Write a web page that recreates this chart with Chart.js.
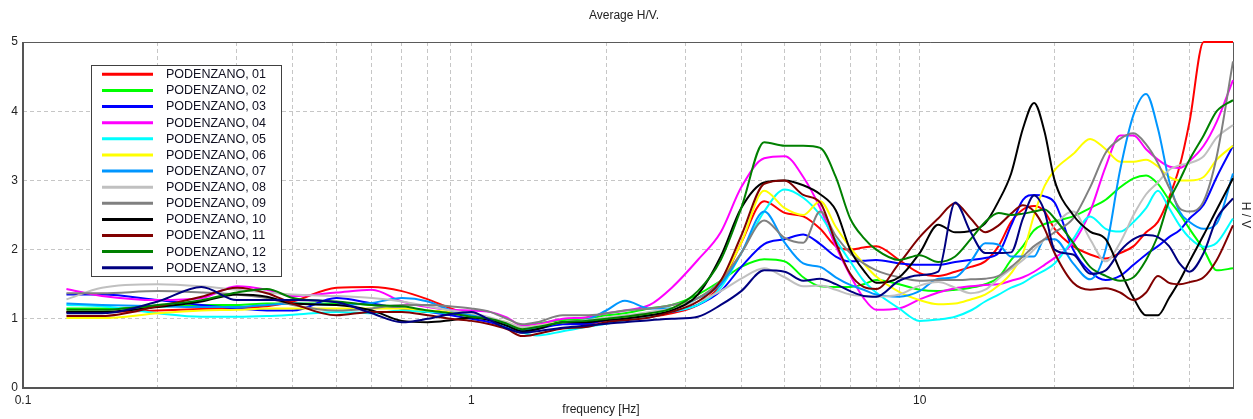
<!DOCTYPE html>
<html><head><meta charset="utf-8">
<script src="https://cdn.jsdelivr.net/npm/chart.js@4.4.1/dist/chart.umd.min.js"></script>
<style>html,body{margin:0;padding:0;background:#fff;}#wrap{width:1253px;height:419px;}</style>
</head><body>
<div id="wrap"><canvas id="c" width="1253" height="419"></canvas></div>
<script>
const freqs = [0.125,0.15,0.2,0.25,0.3,0.35,0.4,0.5,0.6,0.7,
  0.8,0.9,1.0,1.1,1.2,1.3,1.4,1.6,1.8,2.0,
  2.2,2.5,2.8,3.2,3.6,4.0,4.5,5.0,5.5,6.0,
  6.5,7.0,7.5,8,9,10,11,12,13,14,
  15,16,17,18,19,20,22,24,26,28,
  30,32,34,36,38,40,43,46,50];

const seriesLabels = ['PODENZANO, 01','PODENZANO, 02','PODENZANO, 03','PODENZANO, 04','PODENZANO, 05','PODENZANO, 06','PODENZANO, 07','PODENZANO, 08','PODENZANO, 09','PODENZANO, 10','PODENZANO, 11','PODENZANO, 12','PODENZANO, 13'];
const seriesColors = ['#ff0000','#00ff00','#0000ff','#ff00ff','#00ffff','#ffff00','#0096ff','#c0c0c0','#808080','#000000','#800000','#008000','#000080'];

const s01 = [1.10,1.10,1.12,1.14,1.16,1.18,1.25,1.45,1.46,1.40,
 1.28,1.15,1.06,1.00,0.92,0.84,0.86,0.95,0.92,0.98,
 1.00,1.03,1.08,1.20,1.50,2.10,2.70,2.53,2.48,2.30,
 2.05,2.00,2.03,2.05,1.85,1.66,1.62,1.68,1.75,1.83,
 2.05,2.40,2.58,2.63,2.55,2.30,2.05,1.93,1.87,1.95,
 2.05,2.25,2.40,2.75,3.20,3.85,5.00,5.00,5.00];
const s02 = [1.15,1.15,1.17,1.20,1.20,1.22,1.22,1.22,1.20,1.15,
 1.10,1.10,1.05,1.00,0.93,0.88,0.93,0.98,1.00,1.05,
 1.08,1.15,1.20,1.35,1.55,1.75,1.86,1.83,1.60,1.47,
 1.46,1.46,1.50,1.56,1.50,1.42,1.40,1.42,1.45,1.50,
 1.60,1.85,2.05,2.28,2.37,2.41,2.48,2.60,2.72,2.90,
 3.03,3.07,2.95,2.72,2.52,2.30,2.00,1.70,1.73];
const s03 = [1.35,1.35,1.27,1.20,1.15,1.12,1.12,1.30,1.22,1.15,
 1.10,1.05,1.00,0.95,0.87,0.80,0.85,0.92,0.93,0.98,
 1.00,1.05,1.10,1.20,1.40,1.75,2.08,2.15,2.22,2.08,
 1.90,1.83,1.84,1.85,1.80,1.78,1.78,1.82,1.85,1.88,
 1.95,2.35,2.72,2.79,2.77,2.68,2.00,1.68,1.56,1.62,
 1.78,1.93,2.05,2.18,2.28,2.45,2.65,3.05,3.50];
const s04 = [1.43,1.33,1.27,1.30,1.47,1.42,1.33,1.38,1.42,1.25,
 1.17,1.13,1.12,1.10,1.02,0.90,0.92,1.00,1.02,1.08,
 1.12,1.20,1.45,1.85,2.25,2.90,3.32,3.35,3.05,2.60,
 2.05,1.63,1.30,1.13,1.15,1.28,1.38,1.44,1.47,1.49,
 1.50,1.55,1.60,1.68,1.78,1.88,2.10,2.55,3.20,3.65,
 3.65,3.45,3.30,3.20,3.18,3.28,3.50,3.85,4.45];
const s05 = [1.20,1.18,1.08,1.03,1.03,1.04,1.06,1.10,1.08,1.12,
 1.10,1.08,1.05,0.98,0.90,0.80,0.76,0.82,0.88,0.93,
 0.98,1.03,1.10,1.20,1.45,1.95,2.55,2.87,2.75,2.50,
 2.14,1.83,1.55,1.38,1.15,0.97,0.99,1.03,1.12,1.25,
 1.35,1.45,1.52,1.62,1.70,1.80,2.15,2.48,2.30,2.26,
 2.40,2.60,2.85,2.60,2.35,2.17,2.04,2.10,2.45];
const s06 = [1.01,1.01,1.08,1.12,1.13,1.15,1.15,1.15,1.15,1.15,
 1.12,1.10,1.05,1.00,0.95,0.87,0.90,0.95,0.97,1.00,
 1.03,1.08,1.15,1.30,1.55,2.10,2.85,2.60,2.50,2.70,
 2.33,2.03,1.80,1.61,1.39,1.27,1.21,1.22,1.28,1.35,
 1.48,1.66,1.95,2.50,2.92,3.15,3.38,3.60,3.45,3.27,
 3.27,3.30,3.20,3.05,3.00,3.00,3.05,3.30,3.50];
const s07 = [1.22,1.20,1.18,1.17,1.17,1.20,1.22,1.20,1.23,1.30,
 1.25,1.12,1.05,1.00,0.92,0.83,0.87,0.95,0.98,1.12,
 1.26,1.15,1.15,1.30,1.50,1.95,2.55,2.10,1.80,1.75,
 1.60,1.49,1.42,1.35,1.32,1.40,1.58,1.60,1.83,2.09,
 2.07,1.90,1.90,1.90,2.15,2.15,1.80,1.57,2.00,3.15,
 3.95,4.25,3.75,3.00,2.55,2.40,2.30,2.38,3.10];
const s08 = [1.28,1.45,1.50,1.47,1.42,1.38,1.35,1.33,1.30,1.25,
 1.18,1.12,1.08,1.02,0.95,0.88,0.90,0.95,0.98,1.02,
 1.05,1.10,1.15,1.25,1.40,1.58,1.73,1.60,1.47,1.48,
 1.42,1.35,1.33,1.32,1.35,1.48,1.53,1.45,1.37,1.42,
 1.58,1.72,1.85,2.00,2.15,2.35,2.55,2.15,1.83,2.10,
 2.50,2.80,2.97,3.15,3.22,3.25,3.35,3.62,3.80];
const s09 = [1.37,1.37,1.40,1.38,1.35,1.30,1.20,1.12,1.15,1.20,
 1.20,1.18,1.15,1.10,1.00,0.92,0.95,1.05,1.05,1.08,
 1.12,1.15,1.20,1.30,1.55,1.95,2.42,2.17,2.10,2.55,
 2.20,1.95,1.80,1.70,1.60,1.55,1.56,1.56,1.57,1.58,
 1.62,1.75,1.90,2.05,2.15,2.25,2.45,2.90,3.40,3.60,
 3.68,3.52,3.25,2.90,2.60,2.55,2.70,3.35,4.72];
const s10 = [1.10,1.10,1.17,1.25,1.35,1.32,1.22,1.20,1.12,0.97,
 0.95,0.98,1.02,0.98,0.90,0.82,0.85,0.95,0.95,0.98,
 1.00,1.05,1.12,1.35,1.90,2.60,2.97,3.00,2.93,2.80,
 2.57,2.00,1.70,1.52,1.60,1.95,2.36,2.25,2.27,2.38,
 2.70,3.10,3.75,4.12,3.70,3.00,2.50,2.26,2.15,1.70,
 1.30,1.05,1.05,1.30,1.55,1.83,2.21,2.58,3.03];
const s11 = [1.04,1.04,1.18,1.32,1.45,1.37,1.22,1.05,1.10,1.10,
 1.05,1.00,0.97,0.92,0.85,0.75,0.78,0.86,0.88,0.95,
 0.98,1.02,1.10,1.25,1.55,2.20,2.95,3.00,2.79,2.68,
 2.10,1.65,1.46,1.43,1.80,2.18,2.45,2.67,2.45,2.25,
 2.35,2.52,2.64,2.55,2.30,1.95,1.52,1.42,1.44,1.38,
 1.27,1.38,1.62,1.52,1.50,1.53,1.60,1.85,2.35];
const s12 = [1.13,1.13,1.20,1.27,1.38,1.43,1.30,1.25,1.20,1.18,
 1.12,1.08,1.03,1.00,0.93,0.85,0.88,0.95,0.97,1.00,
 1.03,1.08,1.15,1.40,1.85,2.60,3.55,3.50,3.50,3.47,
 3.05,2.45,2.17,2.00,1.85,1.92,1.82,1.90,2.15,2.40,
 2.53,2.50,2.52,2.55,2.58,2.45,2.10,1.75,1.62,1.55,
 1.60,1.85,2.20,2.70,3.00,3.30,3.65,4.00,4.16];
const s13 = [1.08,1.08,1.25,1.46,1.27,1.27,1.27,1.24,1.08,0.95,
 1.00,1.07,1.10,0.98,0.86,0.80,0.82,0.87,0.90,0.93,
 0.95,0.98,1.00,1.03,1.20,1.40,1.70,1.68,1.55,1.58,
 1.50,1.40,1.33,1.32,1.55,1.63,1.68,2.68,2.25,1.95,
 1.95,1.96,2.45,2.78,2.55,2.00,1.93,1.65,1.70,1.98,
 2.15,2.21,2.18,2.05,1.80,1.68,1.95,2.45,2.74];

const allSeries = [s01,s02,s03,s04,s05,s06,s07,s08,s09,s10,s11,s12,s13];

const xTickValues = [0.1,0.2,0.3,0.4,0.5,0.6,0.7,0.8,0.9,1,2,3,4,5,6,7,8,9,10,20,30,40,50];
const xTickLabels = {'0.1':'0.1','1':'1','10':'10'};
const yTickValues = [0,1,2,3,4,5];

const FONT = '"Liberation Sans", Arial, sans-serif';
const TEXT = '#222222';

const datasets = allSeries.map((vals, i) => ({
  label: seriesLabels[i],
  data: vals.map((v, j) => ({x: freqs[j], y: v})),
  borderColor: seriesColors[i],
  backgroundColor: seriesColors[i],
  borderWidth: 2,
  pointRadius: 0,
  fill: false,
  clip: 3,
  cubicInterpolationMode: 'monotone',
  order: seriesLabels.length - i
}));

const overlay = {
  id: 'overlay',
  beforeDatasetsDraw(chart) {
    const {ctx, chartArea: a} = chart;
    ctx.save();
    ctx.strokeStyle = '#5a5a5a';
    ctx.lineWidth = 1;
    ctx.beginPath();
    ctx.moveTo(a.left, a.top + 0.5); ctx.lineTo(a.right + 0.5, a.top + 0.5);
    ctx.lineTo(a.right + 0.5, a.bottom);
    ctx.stroke();
    ctx.lineWidth = 2;
    ctx.strokeStyle = '#555555';
    ctx.beginPath();
    ctx.moveTo(a.left, a.top); ctx.lineTo(a.left, a.bottom); ctx.lineTo(a.right + 1, a.bottom);
    ctx.stroke();
    ctx.restore();
  },
  afterDraw(chart) {
    const {ctx} = chart;
    ctx.save();
    // legend box
    const lx = 91.5, ly = 65.5, lw = 190, lh = 211;
    ctx.fillStyle = '#ffffff';
    ctx.fillRect(lx, ly, lw, lh);
    ctx.strokeStyle = '#404040';
    ctx.lineWidth = 1;
    ctx.strokeRect(lx, ly, lw, lh);
    ctx.font = '12.5px ' + FONT;
    ctx.textBaseline = 'middle';
    ctx.textAlign = 'left';
    seriesLabels.forEach((lab, i) => {
      const y = 74.3 + i * 16.12;
      ctx.strokeStyle = seriesColors[i];
      ctx.lineWidth = 3;
      ctx.beginPath();
      ctx.moveTo(102, y); ctx.lineTo(153, y);
      ctx.stroke();
      ctx.fillStyle = '#101020';
      ctx.fillText(lab, 166, y + 0.5);
    });

    // titles
    ctx.fillStyle = TEXT;
    ctx.font = '12px ' + FONT;
    ctx.textAlign = 'center';
    ctx.fillText('Average H/V.', 624, 16);
    ctx.fillText('frequency [Hz]', 601, 410);
    ctx.translate(1245, 215);
    ctx.rotate(Math.PI / 2);
    ctx.fillText('H / V', 0, 0);
    ctx.restore();
  }
};

new Chart(document.getElementById('c'), {
  type: 'line',
  data: {datasets},
  options: {
    responsive: false,
    animation: false,
    devicePixelRatio: 1,
    layout: {padding: {top: 42, right: 20, left: 0, bottom: 0}},
    plugins: {legend: {display: false}, tooltip: {enabled: false}, title: {display: false}},
    scales: {
      x: {
        type: 'logarithmic', min: 0.1, max: 50,
        afterBuildTicks: s => { s.ticks = xTickValues.map(v => ({value: v})); },
        afterFit: s => { s.height = 31; },
        grid: {color: '#c6c6c6', lineWidth: 1, drawTicks: false},
        border: {display: false, dash: [4, 3]},
        ticks: {autoSkip: false, maxRotation: 0, minRotation: 0, padding: 5, color: TEXT,
          font: {family: FONT, size: 12},
          callback: v => (xTickLabels[String(v)] !== undefined ? xTickLabels[String(v)] : '')}
      },
      y: {
        min: 0, max: 5,
        afterBuildTicks: s => { s.ticks = yTickValues.map(v => ({value: v})); },
        afterFit: s => { s.width = 23; },
        grid: {color: '#c6c6c6', lineWidth: 1, drawTicks: false},
        border: {display: false, dash: [4, 3]},
        ticks: {padding: 5, color: TEXT, font: {family: FONT, size: 12}, callback: v => String(v)}
      }
    }
  },
  plugins: [overlay]
});
</script>
</body></html>
